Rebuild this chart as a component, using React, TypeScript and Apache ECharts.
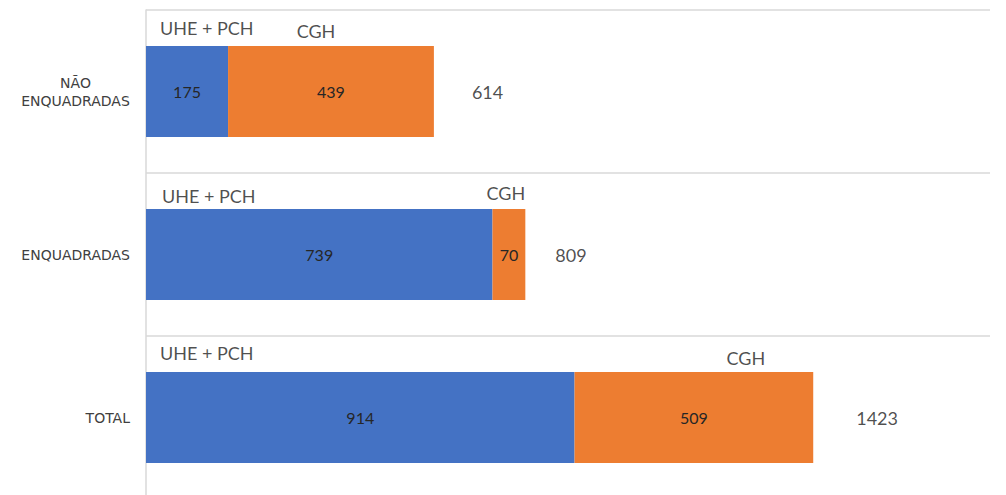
import React, { useEffect, useRef } from "react";
import * as echarts from "echarts";

const categories = ["NÃO\nENQUADRADAS", "ENQUADRADAS", "TOTAL"];
const uhePch = [175, 739, 914];
const cgh = [439, 70, 509];
const seriesNames = ["UHE + PCH", "CGH"];

// label placement (pixel offsets) for the series-name labels above bars
const uheNameOffsets = [[14, -64], [16, -59], [14, -65]];
const cghNameOffsets = [[-15, -61], [-3, -62], [52, -60]];
const totalDistances = [38, 30, 43];

const FONT = "Lato";
const CAT_FONT = "DejaVu Sans";
const CAT_SIZE = 14;

export default function App() {
  const ref = useRef<HTMLDivElement>(null);
  useEffect(() => {
    if (!ref.current) return;
    const chart = echarts.init(ref.current, null, { renderer: "svg" });
    const totals = uhePch.map((v, i) => v + cgh[i]);
    const ctx = document.createElement("canvas").getContext("2d");
    let longest = 100;
    if (ctx) {
      ctx.font = `${CAT_SIZE}px "${CAT_FONT}"`;
      longest = Math.max(
        ...categories.flatMap((c) => c.split("\n")).map((l) => ctx.measureText(l).width)
      );
    }
    chart.setOption({
      animation: false,
      backgroundColor: "#ffffff",
      grid: { left: 146, top: 10, right: 16, bottom: 1, containLabel: false },
      xAxis: {
        type: "value",
        min: 0,
        max: 1800,
        show: false,
      },
      yAxis: {
        type: "category",
        data: categories,
        inverse: true,
        axisLine: { show: true, lineStyle: { color: "#D9D9D9", width: 1.5 } },
        axisTick: { show: false },
        splitLine: { show: true, lineStyle: { color: "#D9D9D9", width: 1.5 } },
        axisLabel: {
          color: "#404040",
          fontFamily: CAT_FONT,
          fontSize: CAT_SIZE,
          lineHeight: 18,
          margin: 16,
          align: "right",
          formatter: (v: string) =>
            v.includes("\n")
              ? v
                  .split("\n")
                  .map((l) => `{c|${l}}`)
                  .join("\n")
              : v,
          rich: {
            c: {
              width: Math.ceil(longest),
              align: "center",
              color: "#404040",
              fontFamily: CAT_FONT,
              fontSize: CAT_SIZE,
              lineHeight: 18,
            },
          },
        },
      },
      series: [
        {
          name: seriesNames[0],
          type: "bar",
          stack: "s",
          barWidth: 91,
          data: uhePch,
          itemStyle: { color: "#4472C4" },
          label: {
            show: true,
            position: "inside",
            color: "#262626",
            fontFamily: FONT,
            fontSize: 16,
          },
        },
        {
          name: seriesNames[1],
          type: "bar",
          stack: "s",
          barWidth: 91,
          data: cgh,
          itemStyle: { color: "#ED7D31" },
          label: {
            show: true,
            position: "inside",
            color: "#262626",
            fontFamily: FONT,
            fontSize: 16,
          },
        },
        {
          type: "scatter",
          symbolSize: 0,
          silent: true,
          data: uhePch.map((_, i) => ({
            value: [0, i],
            label: { offset: uheNameOffsets[i] },
          })),
          label: {
            show: true,
            position: "inside",
            align: "left",
            verticalAlign: "middle",
            formatter: () => seriesNames[0],
            color: "#1f1f1f",
            fontFamily: FONT,
            fontSize: 18,
          },
        },
        {
          type: "scatter",
          symbolSize: 0,
          silent: true,
          data: cgh.map((v, i) => ({
            value: [uhePch[i] + v / 2, i],
            label: { offset: cghNameOffsets[i] },
          })),
          label: {
            show: true,
            position: "inside",
            align: "center",
            verticalAlign: "middle",
            formatter: () => seriesNames[1],
            color: "#1f1f1f",
            fontFamily: FONT,
            fontSize: 18,
          },
        },
        {
          type: "scatter",
          symbolSize: 0,
          silent: true,
          data: totals.map((t, i) => ({
            value: [t, i],
            label: { distance: totalDistances[i] },
          })),
          label: {
            show: true,
            position: "right",
            formatter: (p: any) => String(p.value[0]),
            color: "#1f1f1f",
            fontFamily: FONT,
            fontSize: 18,
          },
        },
      ],
    });
    return () => chart.dispose();
  }, []);
  return (
    <div
      ref={ref}
      style={{ position: "fixed", left: 0, top: 0, width: 1006, height: 500 }}
    />
  );
}
